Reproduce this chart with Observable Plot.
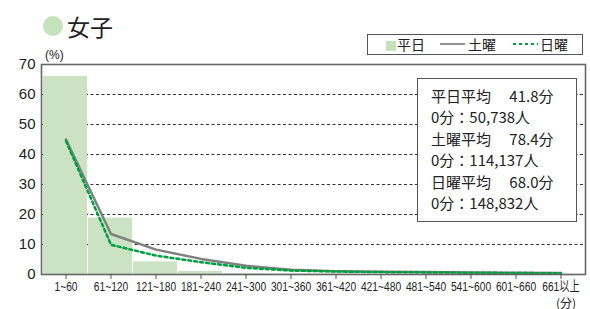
<!DOCTYPE html>
<html><head><meta charset="utf-8">
<script src="https://cdn.jsdelivr.net/npm/d3@7"></script>
<script src="https://cdn.jsdelivr.net/npm/@observablehq/plot@0.6"></script>
<style>
html,body{margin:0;padding:0;background:#fff;}
#wrap{position:relative;width:590px;height:309px;overflow:hidden;font-family:"Liberation Sans","Noto Sans CJK JP",sans-serif;color:#222;}
.abs{position:absolute;white-space:nowrap;}
#chart{position:absolute;left:0;top:0;}
</style></head>
<body><div id="wrap"><div id="chart"></div></div>
<script>
const categories = ["1~60","61~120","121~180","181~240","241~300","301~360","361~420","421~480","481~540","541~600","601~660","661以上"];
const weekday  = [66, 18.8, 4.2, 1.0, 0.3, 0.2, 0.2, 0.1, 0.1, 0.1, 0.1, 0.1];
const saturday = [45, 13.5, 8.3, 5.2, 2.9, 1.6, 1.1, 0.9, 0.8, 0.7, 0.6, 0.5];
const sunday   = [44.5, 9.9, 6.3, 4.1, 2.2, 1.3, 1.0, 0.8, 0.7, 0.6, 0.5, 0.4];
const yTicks = [0,10,20,30,40,50,60,70];
const gridValues = [10,20,30,40,50,60];
const title = "女子";
const seriesNames = ["平日","土曜","日曜"];
const infoLines = ["平日平均\u3000 41.8分","0分：50,738人","土曜平均\u3000 78.4分","0分：114,137人","日曜平均\u3000 68.0分","0分：148,832人"];

const rows = (vals) => categories.map((c,i)=>({cat:c, v:vals[i]}));

const plot = Plot.plot({
  width: 590, height: 309,
  marginLeft: 41, marginRight: 5, marginTop: 64, marginBottom: 35,
  x: {type:"band", domain: categories, padding: 0},
  y: {domain:[0,70], ticks: yTicks},
  style: {fontFamily:"Liberation Sans, sans-serif", background:"#fff"},
  marks: [
    Plot.ruleY(gridValues, {stroke:"#333", strokeDasharray:"3,2.5", strokeWidth:1}),
    Plot.barY(rows(weekday), {x:"cat", y:"v", fill:"#cbe3c2", insetRight:1}),
    Plot.line(rows(saturday), {x:"cat", y:"v", stroke:"#808080", strokeWidth:2.5}),
    Plot.line(rows(sunday), {x:"cat", y:"v", stroke:"#00a040", strokeWidth:2.5, strokeDasharray:"3,3"}),
    Plot.frame({stroke:"#666", strokeWidth:1.6}),
    Plot.axisY({ticks: yTicks, tickSize:0, tickPadding:6, fontSize:15, fill:"#222", label:null}),
    Plot.axisX({tickSize:5, tickPadding:2, fontSize:13.5, fontFamily:"Liberation Sans, Noto Sans CJK JP, sans-serif", stroke:"#555", fill:"#222", label:null})
  ]
});
document.getElementById("chart").appendChild(plot);
// condense the x tick labels horizontally, like the reference's narrow font
d3.select(plot).selectAll('g[aria-label="x-axis tick label"] text').each(function(){
  this.style.fontSize = "13.5px";
  const x = this.getAttribute("x");
  let t = this.getAttribute("transform") || "";
  if (x !== null) { t += ` translate(${x},0)`; this.setAttribute("x", 0); }
  this.setAttribute("transform", t + " scale(0.76,1)");
});

const wrap = document.getElementById("wrap");
function add(html, css){ const d=document.createElement("div"); d.className="abs"; d.innerHTML=html; Object.assign(d.style, css); wrap.appendChild(d); return d; }

// title
add("", {left:"43px", top:"16px", width:"20px", height:"20px", borderRadius:"50%", background:"#c6e2bb"});
add(title, {left:"67px", top:"11px", fontSize:"23px", fontFamily:"Noto Sans CJK JP", lineHeight:"30px"});
add("(%)", {left:"45px", top:"47px", fontSize:"12px", lineHeight:"16px"});
add("(分)", {left:"556px", top:"297px", fontSize:"12px", lineHeight:"12px", fontFamily:"Noto Sans CJK JP"});

// legend
add(`<span style="display:inline-block;width:10px;height:10px;background:#c6e2bb;margin:0 1px 0 0;vertical-align:-1px"></span>${seriesNames[0]}` +
`<svg width="28" height="10" style="margin:0 2px 0 13px;vertical-align:1px"><line x1="2" y1="5" x2="27" y2="5" stroke="#777" stroke-width="1.6"/></svg>${seriesNames[1]}` +
`<svg width="28" height="10" style="margin:0 1px 0 15px;vertical-align:1px"><line x1="2" y1="5" x2="27" y2="5" stroke="#00a040" stroke-width="2.2" stroke-dasharray="3,3"/></svg>${seriesNames[2]}`,
  {left:"367px", top:"34px", width:"196px", height:"19px", border:"1px solid #555", background:"#fff", fontSize:"14px", lineHeight:"19px", fontFamily:"Noto Sans CJK JP", paddingLeft:"18px", boxSizing:"content-box"});

// info box
add(infoLines.join("<br>"), {left:"417px", top:"78px", width:"145px", height:"136px", border:"1px solid #555", background:"#fff", fontSize:"15px", lineHeight:"21.4px", fontFamily:"Noto Sans CJK JP", paddingLeft:"13px", paddingTop:"6px", boxSizing:"content-box"});
</script></body></html>
